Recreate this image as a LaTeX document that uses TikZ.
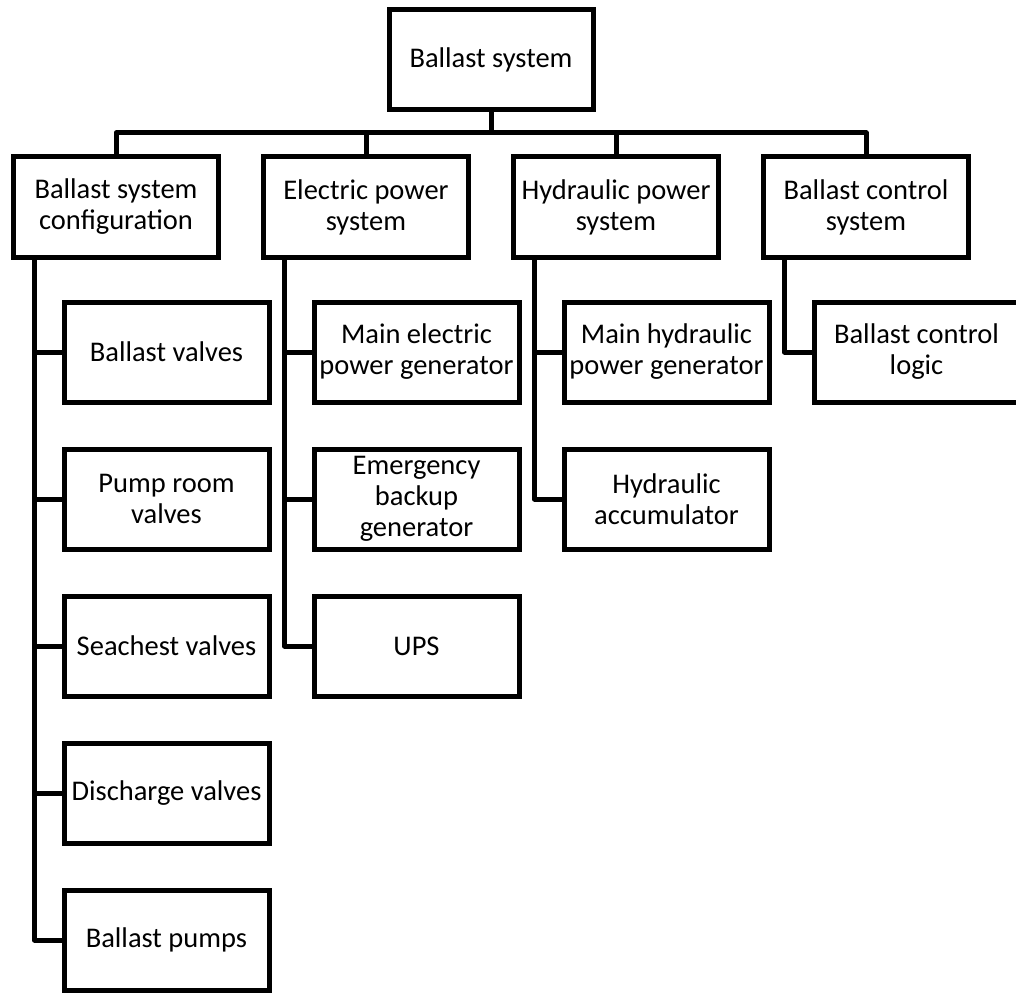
\documentclass[tikz,border=0pt]{standalone}
\usepackage{fontspec}
\setmainfont{Carlito}
\begin{document}
\begin{tikzpicture}[x=1pt,y=-1pt,
  box/.style={draw=black,line width=5pt,minimum width=205pt,minimum height=100pt,
    inner sep=0pt,outer sep=0pt,align=center,
    font=\fontsize{28.5}{31}\selectfont},
  link/.style={draw=black,line width=5pt,line join=round}]
\useasboundingbox (0,0) rectangle (1016,992);
\node[box,minimum width=204pt] (root) at (491,60) {Ballast system};
\node[box] (c1) at (116,207) {Ballast system\\configuration};
\node[box] (c2) at (366,207) {Electric power\\system};
\node[box] (c3) at (616,207) {Hydraulic power\\system};
\node[box] (c4) at (866,207) {Ballast control\\system};
\coordinate (bus) at (491,133);
\draw[link] (root.south) -- (bus);
\draw[link] (c1.north) |- (bus) -| (c4.north);
\draw[link] (c2.north) -- (c2.north |- bus);
\draw[link] (c3.north) -- (c3.north |- bus);
% column 1
\node[box] (a1) at (166.5,352) {Ballast valves};
\node[box] (a2) at (166.5,499) {Pump room\\valves};
\node[box] (a3) at (166.5,646) {Seachest valves};
\node[box] (a4) at (166.5,793) {Discharge valves};
\node[box] (a5) at (166.5,940) {Ballast pumps};
% column 2
\node[box] (b1) at (416.5,352) {Main electric\\power generator};
\node[box] (b2) at (416.5,499) {Emergency\\backup\\generator};
\node[box] (b3) at (416.5,646) {UPS};
% column 3
\node[box] (d1) at (666.5,352) {Main hydraulic\\power generator};
\node[box] (d2) at (666.5,499) {Hydraulic\\accumulator};
% column 4
\node[box] (e1) at (916.5,352) {Ballast control\\logic};
\foreach \p/\c in {c1/a1,c1/a2,c1/a3,c1/a4,c1/a5,c2/b1,c2/b2,c2/b3,c3/d1,c3/d2,c4/e1}
  \draw[link] ([xshift=21pt]\p.south west) |- (\c.west);
\end{tikzpicture}
\end{document}
